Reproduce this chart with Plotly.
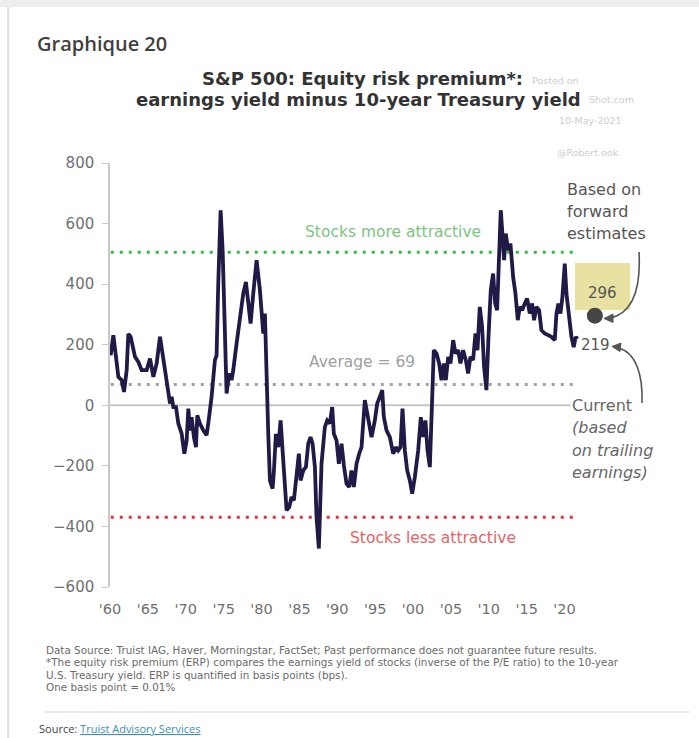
import plotly.graph_objects as go

# ---------------- data ----------------
years = [1960.09, 1960.44, 1960.79, 1961.10, 1961.54, 1961.85, 1962.20, 1962.42, 1962.73, 1963.30,
         1963.74, 1964.18, 1964.84, 1965.28, 1965.72, 1966.16, 1966.60, 1966.95, 1967.48, 1967.92,
         1968.14, 1968.36, 1968.71, 1969.02, 1969.46, 1969.81, 1970.12, 1970.34, 1970.56, 1970.77,
         1971.08, 1971.35, 1971.52, 1971.87, 1972.31, 1972.75, 1972.97, 1973.41, 1973.85, 1974.07,
         1974.29, 1974.60, 1974.87, 1975.17, 1975.39, 1975.61, 1975.83, 1976.05, 1976.27, 1976.71,
         1977.15, 1977.59, 1977.94, 1978.25, 1978.56, 1978.91, 1979.35, 1979.79, 1980.05, 1980.23,
         1980.45, 1980.67, 1980.89, 1981.11, 1981.46, 1981.64, 1981.90, 1982.21, 1982.52, 1982.78,
         1983.09, 1983.31, 1983.66, 1983.97, 1984.27, 1984.63, 1984.93, 1985.15, 1985.51, 1985.86,
         1986.17, 1986.47, 1986.74, 1987.05, 1987.26, 1987.57, 1987.92, 1988.36, 1988.67, 1989.02,
         1989.33, 1989.55, 1989.90, 1990.21, 1990.56, 1990.87, 1991.22, 1991.57, 1991.88, 1992.19,
         1992.54, 1992.89, 1993.20, 1993.64, 1993.99, 1994.52, 1994.96, 1995.27, 1995.62, 1995.93,
         1996.15, 1996.50, 1996.94, 1997.38, 1997.73, 1998.04, 1998.35, 1998.61, 1998.92, 1999.23,
         1999.58, 1999.89, 2000.24, 2000.68, 2001.03, 2001.34, 2001.64, 2001.91, 2002.22, 2002.52,
         2002.74, 2003.10, 2003.45, 2003.76, 2004.06, 2004.33, 2004.64, 2004.94, 2005.30, 2005.60,
         2005.95, 2006.26, 2006.61, 2006.97, 2007.27, 2007.58, 2007.93, 2008.24, 2008.51, 2008.81,
         2009.12, 2009.38, 2009.69, 2009.96, 2010.26, 2010.57, 2010.84, 2011.10, 2011.36, 2011.58,
         2011.80, 2012.02, 2012.24, 2012.55, 2012.86, 2013.21, 2013.52, 2013.83, 2014.09, 2014.40,
         2014.75, 2015.06, 2015.41, 2015.72, 2015.98, 2016.29, 2016.64, 2016.95, 2017.39, 2017.83,
         2018.27, 2018.71, 2018.93, 2019.19, 2019.46, 2019.72, 2020.03, 2020.25, 2020.60, 2020.91,
         2021.21, 2021.48, 2021.70]
erp = [165, 231, 160, 94, 83, 44, 116, 236, 226, 160,
       143, 116, 116, 154, 94, 138, 226, 171, 72, 6,
       28, -6, -6, -60, -94, -160, -116, -11, -83, -39,
       -105, -138, -33, -60, -83, -99, -60, 28, 149, 165,
       402, 644, 512, 182, 39, 83, 105, 83, 116, 204,
       292, 369, 407, 336, 270, 369, 479, 380, 292, 237,
       303, 72, -94, -248, -275, -215, -94, -138, -50, -149,
       -259, -347, -336, -303, -314, -237, -160, -248, -215, -204,
       -127, -105, -127, -204, -369, -473, -193, -72, -50, -60,
       -6, -94, -116, -193, -127, -198, -259, -270, -215, -270,
       -193, -160, -138, 17, -39, -105, -50, 6, 28, 50,
       -39, -83, -105, -160, -138, -149, -138, -11, -149, -215,
       -248, -292, -237, -149, -39, -105, -50, -149, -204, 50,
       182, 171, 138, 83, 138, 83, 160, 138, 215, 171,
       182, 138, 182, 149, 105, 160, 149, 237, 182, 325,
       259, 127, 50, 226, 380, 435, 336, 314, 479, 644,
       567, 479, 567, 512, 534, 424, 369, 281, 325, 314,
       336, 352, 303, 336, 281, 325, 314, 248, 237, 231,
       226, 215, 303, 336, 303, 358, 468, 369, 292, 226,
       192, 226, 219]

ref_names = ["Stocks more attractive", "Average = 69", "Stocks less attractive"]
ref_values = [505, 69, -370]
ref_span = [1960.1, 2021.75]
zero_span = [1960.0, 2020.8]

forward_year = [2024.0]
forward_erp = [296]
current_erp = 219

x_tickvals = [1960, 1965, 1970, 1975, 1980, 1985, 1990, 1995, 2000, 2005, 2010, 2015, 2020]
x_ticktext = ["'60", "'65", "'70", "'75", "'80", "'85", "'90", "'95", "'00", "'05", "'10", "'15", "'20"]
y_tickvals = [-600, -400, -200, 0, 200, 400, 600, 800]

# ---------------- layout helpers (pixel -> paper) ----------------
W, H = 699, 738
PL, PR, PT, PB = 110, 610, 163, 587


def px(x):
    return (x - PL) / (PR - PL)


def py(y):
    return (PB - y) / (PB - PT)


FONT = "DejaVu Sans"

fig = go.Figure()

# zero line
fig.add_trace(go.Scatter(x=zero_span, y=[0, 0], mode="lines",
                         line=dict(color="#c6c6c6", width=2), hoverinfo="skip", showlegend=False))

# reference dotted lines
ref_colors = ["#3db54a", "#a3a3a3", "#d8363c"]
for name, val, col in zip(ref_names, ref_values, ref_colors):
    fig.add_trace(go.Scatter(x=ref_span, y=[val, val], mode="lines",
                             line=dict(color=col, width=3, dash="3px,6px"),
                             hoverinfo="skip", showlegend=False))

# main series
fig.add_trace(go.Scatter(x=years, y=erp, mode="lines",
                         line=dict(color="#221a46", width=3.8, shape="linear"),
                         showlegend=False, name="ERP"))

# forward estimate dot
fig.add_trace(go.Scatter(x=forward_year, y=forward_erp, mode="markers",
                         marker=dict(size=16, color="#454545"),
                         cliponaxis=False, showlegend=False))

shapes = []
# page frame
shapes.append(dict(type="rect", xref="paper", yref="paper", x0=px(0), x1=px(W), y0=py(0), y1=py(7),
                   fillcolor="#eeeeee", line=dict(width=0), layer="below"))
shapes.append(dict(type="rect", xref="paper", yref="paper", x0=px(7), x1=px(9.5), y0=py(7), y1=py(H),
                   fillcolor="#e4e4e4", line=dict(width=0), layer="below"))
# separator above source
shapes.append(dict(type="line", xref="paper", yref="paper", x0=px(44), x1=px(690), y0=py(712), y1=py(712),
                   line=dict(color="#d9d9d9", width=1)))
# yellow box
shapes.append(dict(type="rect", xref="paper", yref="paper", x0=px(575), x1=px(630), y0=py(310), y1=py(263),
                   fillcolor="#e7e2a2", line=dict(width=0), layer="below"))

# arrow 1 : from "estimates" down to dot
p1 = "M {},{} C {},{} {},{} {},{}".format(px(639), py(252), px(641), py(288), px(633), py(313), px(610), py(318))
shapes.append(dict(type="path", xref="paper", yref="paper", path=p1, line=dict(color="#555555", width=1.6)))
h1 = "M {},{} L {},{} L {},{} Z".format(px(604), py(318.5), px(613), py(314), px(613), py(322.5))
shapes.append(dict(type="path", xref="paper", yref="paper", path=h1, fillcolor="#555555",
                   line=dict(color="#555555", width=1)))
# arrow 2 : from "Current" up to 219
p2 = "M {},{} C {},{} {},{} {},{}".format(px(642), py(403), px(643), py(375), px(636), py(352), px(618), py(348))
shapes.append(dict(type="path", xref="paper", yref="paper", path=p2, line=dict(color="#555555", width=1.6)))
h2 = "M {},{} L {},{} L {},{} Z".format(px(612), py(346.5), px(621), py(343), px(620), py(351.5))
shapes.append(dict(type="path", xref="paper", yref="paper", path=h2, fillcolor="#555555",
                   line=dict(color="#555555", width=1)))

ann = []


def txt(text, x, y, size, color, anchor="left", family=FONT, weight=None, style=None):
    f = dict(family=family, size=size, color=color)
    if weight:
        f["weight"] = weight
    if style:
        f["style"] = style
    ann.append(dict(text=text, xref="paper", yref="paper", x=px(x), y=py(y), xanchor=anchor,
                    yanchor="middle", showarrow=False, font=f))


# headings
txt("Graphique 20", 35, 44, 20, "#3f3f3f", family="Open Sans", weight=600)
txt("S&P 500: Equity risk premium*:", 362, 78, 18, "#333333", anchor="center", weight="bold")
txt("earnings yield minus 10-year Treasury yield", 358, 100, 18, "#333333", anchor="center", weight="bold")
# watermark
wm = "#cdcdd1"
txt("Posted on", 530, 80, 9.5, wm)
txt("Shot.com", 587, 100, 9.5, wm)
txt("10-May-2021", 557, 120, 9.5, wm)
txt("@Robert.ook", 555, 152, 9.5, wm)

# in-plot labels (data coordinates)
lab_pos = [(1997.3, 571), (1993.2, 142), (2002.6, -439)]
lab_cols = ["#7cc47f", "#a0a0a0", "#e06468"]
for name, (lx, ly), c in zip(ref_names, lab_pos, lab_cols):
    ann.append(dict(text=name, x=lx, y=ly, xref="x", yref="y", showarrow=False,
                    xanchor="center", yanchor="middle", font=dict(family=FONT, size=15.5, color=c)))

# right side notes
txt("Based on", 565, 189, 16, "#555555")
txt("forward", 565, 211, 16, "#555555")
txt("estimates", 565, 233, 16, "#555555")
txt(str(forward_erp[0]), 602, 293, 15, "#555555", anchor="center")
txt(str(current_erp), 579, 345, 15, "#555555")
txt("Current", 570, 405, 16, "#666666")
txt("(based", 570, 427, 16, "#666666", style="italic")
txt("on trailing", 570, 450, 16, "#666666", style="italic")
txt("earnings)", 570, 472, 16, "#666666", style="italic")

# footer
foot = ["Data Source: Truist IAG, Haver, Morningstar, FactSet; Past performance does not guarantee future results.",
        "*The equity risk premium (ERP) compares the earnings yield of stocks (inverse of the P/E ratio) to the 10-year",
        "U.S. Treasury yield. ERP is quantified in basis points (bps).",
        "One basis point = 0.01%"]
for i, line in enumerate(foot):
    txt(line, 44, 650 + i * 12.4, 10.4, "#6a6a6a")
txt("Source: <span style='color:#3b8fb3'><u>Truist Advisory Services</u></span>", 37, 728, 11, "#444444",
    family="Open Sans")

fig.update_layout(
    width=W, height=H,
    margin=dict(l=PL, r=W - PR, t=PT, b=H - PB, pad=0),
    paper_bgcolor="white", plot_bgcolor="white",
    shapes=shapes, annotations=ann,
    xaxis=dict(range=[1960, 2026], tickvals=x_tickvals, ticktext=x_ticktext,
               showgrid=False, zeroline=False, showline=False,
               ticks="outside", ticklen=9, tickcolor="rgba(0,0,0,0)",
               tickfont=dict(family=FONT, size=14.5, color="#707070")),
    yaxis=dict(range=[-600, 800], tickvals=y_tickvals, showgrid=False,
               zeroline=False,
               showline=True, linecolor="#c8c8c8", linewidth=1.5,
               ticks="outside", ticklen=6, tickcolor="#c8c8c8", ticklabelstandoff=5,
               tickfont=dict(family=FONT, size=15, color="#707070")),
    showlegend=False,
)

fig.write_html("out.html")
